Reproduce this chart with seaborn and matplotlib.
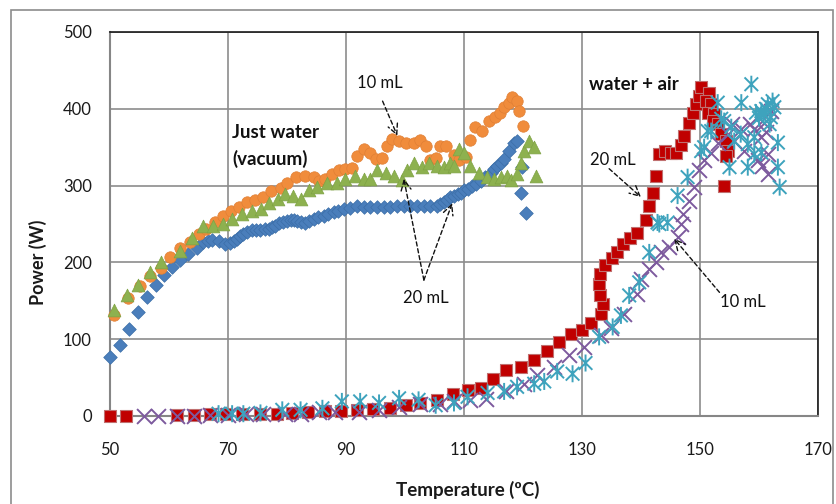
import numpy as np
import pandas as pd
import matplotlib
matplotlib.use("Agg")
import matplotlib.pyplot as plt
import matplotlib.patches as mpatches
from matplotlib.path import Path
import seaborn as sns

# ---------------- data ----------------
vac20a_T = [50, 51.7, 53.2, 54.7, 56.2, 57.8, 59.2, 60.5, 61.9, 63.3, 64.7, 65.8, 66.6, 67.3, 68.4,
            69.5, 70.3, 71.0, 71.5, 72.1, 72.6, 73.3, 74.1, 74.8, 75.5, 76.2, 76.9, 77.5, 78.0, 78.7,
            79.4, 80.0, 80.6, 81.2, 81.7, 82.4, 83.1, 83.8, 84.5, 85.3, 86.2, 87.0, 87.9, 88.7, 89.6,
            90.7, 91.9, 93.0, 94.1, 95.2, 96.4, 97.5, 98.7, 99.8, 100.9, 102.0, 103.2, 104.3, 105.4,
            106.0, 106.6, 107.2, 107.7, 108.3, 108.9, 109.5, 110.0, 110.7, 111.4, 112.1, 112.8, 113.6,
            114.5, 115.0, 115.6, 116.2, 116.8, 117.6, 118.5, 119.0, 119.9, 119.6, 120.5]
vac20a_P = [77, 93, 113, 135, 155, 171, 184, 194, 203, 211, 219, 226, 228, 229, 228,
            224, 225, 228, 231, 234, 237, 240, 242, 242, 242, 243, 244, 246, 248, 251,
            253, 254, 255, 255, 254, 253, 251, 254, 257, 259, 261, 263, 265, 267, 270,
            271, 273, 272, 272, 272, 272, 272, 273, 273, 273, 273, 273, 273, 274,
            276, 278, 281, 285, 287, 289, 291, 294, 296, 299, 302, 306, 311,
            317, 321, 326, 330, 335, 345, 356, 358, 324, 291, 264]

vac10_T = [50.7, 53.1, 55.0, 56.8, 58.6, 60.2, 61.9, 63.5, 65.0, 66.3, 67.8, 69.1, 70.5, 71.8, 73.2,
           74.6, 75.9, 77.3, 78.9, 80.0, 81.6, 83.1, 84.5, 85.4, 86.5, 87.6, 88.8, 89.9, 91.0, 91.9,
           93.0, 94.1, 95.0, 96.1, 97.0, 97.8, 99.0, 100.1, 101.5, 102.6, 103.5, 104.3, 105.2, 105.9,
           106.9, 108.3, 109.2, 110.3, 111.0, 111.9, 113.1, 114.2, 115.2, 116.1, 116.8, 117.6, 118.2,
           118.9, 119.3, 120.0]
vac10_P = [131, 154, 169, 182, 193, 207, 219, 226, 237, 244, 252, 261, 267, 272, 278,
           281, 285, 293, 297, 303, 311, 313, 311, 306, 309, 315, 320, 322, 323, 338,
           348, 342, 335, 336, 352, 361, 358, 355, 356, 359, 351, 333, 336, 352,
           351, 340, 333, 337, 359, 376, 371, 384, 389, 394, 402, 408, 416,
           410, 397, 378]

vac20b_T = [50.7, 52.8, 54.8, 56.8, 58.6, 61.9, 63.9, 65.7, 67.4, 69.1, 70.7, 72.4, 74.1, 75.6,
            76.9, 78.4, 79.7, 81.0, 82.3, 83.7, 85.1, 86.8, 88.5, 89.9, 91.6, 93.0, 94.1, 95.3, 96.7,
            98.1, 99.5, 100.4, 101.5, 102.9, 104.0, 105.5, 106.6, 107.6, 108.3, 109.1, 110.0, 111.1,
            112.5, 113.9, 115.1, 116.2, 117.3, 117.9, 119.0, 119.6, 120.2, 121.0, 121.9, 122.2]
vac20b_P = [138, 157, 171, 187, 200, 215, 232, 247, 248, 250, 257, 263, 267, 270,
            277, 283, 289, 287, 283, 294, 298, 304, 304, 309, 313, 309, 309, 320, 317,
            313, 307, 320, 330, 324, 330, 326, 324, 330, 326, 348, 343, 326,
            317, 311, 309, 311, 313, 307, 315, 330, 345, 358, 350, 313]

air20_T = [50, 52.7, 61.4, 64.3, 67.0, 69.7, 72.4, 75.4, 78.3, 80.8, 83.5, 86.4, 89.1, 91.8, 94.5,
           97.5, 100.1, 102.6, 105.4, 108.2, 110.7, 112.8, 114.9, 117.2, 119.6, 121.9, 124.0, 126.1,
           128.1, 130.0, 131.6, 133.2, 133.5, 133.1, 132.9, 133.1, 133.9, 135.0, 136.0, 136.9, 138.2,
           139.4, 140.8, 141.4, 142.0, 142.6, 143.1, 144.1, 145.1, 145.9, 146.8, 147.3, 148.2, 148.8,
           149.3, 149.9, 150.2, 151.6, 151.0, 151.9, 151.3, 152.4, 152.2, 153.0, 153.6, 154.4, 154.7,
           154.4, 154.0]
air20_P = [0, 0, 1, 1, 2, 2, 2, 3, 3, 4, 5, 6, 7, 8, 9,
           11, 14, 17, 21, 29, 34, 37, 48, 60, 64, 73, 85, 96,
           107, 112, 121, 133, 146, 157, 172, 185, 196, 206, 214, 224, 232,
           238, 255, 274, 290, 312, 341, 345, 342, 342, 353, 365, 382, 395,
           406, 417, 428, 421, 410, 406, 395, 393, 384, 380, 367, 358, 345,
           339, 300]

air10a_T = [55.7, 58.2, 61.4, 64.3, 67.0, 70.0, 73.0, 76.0, 79.7, 82.3, 85.4, 88.2, 92.2, 95.6, 99.0,
            102.6, 106.0, 108.3, 111.1, 113.7, 117.1, 120.2, 122.4, 125.3, 127.8, 130.4, 133.2, 134.9,
            137.2, 139.4, 140.0, 141.4, 142.5, 143.4, 144.8, 146.2, 146.8, 147.1, 148.2, 149.0, 149.9,
            150.7, 151.9, 153.0, 154.7, 155.5, 156.9, 158.4, 159.2, 160.4, 160.9, 161.5, 161.5, 159.8,
            157.5, 155.8, 162.0, 160.5, 161.2]
air10a_P = [0, 0, 0, 0, 1, 1, 2, 2, 3, 3, 5, 5, 5, 8, 12,
            16, 16, 19, 21, 22, 32, 42, 53, 64, 79, 90, 105, 114,
            133, 159, 179, 192, 200, 213, 220, 233, 250, 263, 280, 298, 320,
            333, 343, 356, 367, 380, 374, 380, 374, 363, 382, 341, 315, 333,
            345, 358, 397, 325, 370]

air10b_T = [68.4, 70.7, 72.6, 75.5, 79.2, 82.3, 86.0, 89.3, 92.4, 95.6, 99.0, 102.3, 105.2, 108.3,
            110.6, 114.0, 116.8, 119.0, 121.9, 123.6, 125.8, 128.4, 130.6, 132.9, 135.2, 136.6, 138.0,
            139.7, 141.4, 142.8, 144.5, 146.2, 147.9, 150.2, 150.7, 151.3, 151.9, 153.0, 153.6, 154.1,
            155.0, 155.3, 155.8, 156.9, 157.0, 158.1, 158.1, 158.7, 159.2, 159.2, 160.4, 160.4, 161.5,
            162.0, 162.6, 163.2, 163.2, 163.5, 143.1, 160.0, 160.8, 161.2, 159.5, 162.3, 161.8]
air10b_P = [3, 3, 3, 4, 8, 8, 10, 19, 19, 17, 23, 21, 14, 17,
            25, 30, 32, 38, 42, 45, 58, 55, 69, 103, 116, 131, 157,
            174, 213, 252, 252, 287, 311, 345, 350, 371, 371, 408, 387, 384,
            324, 376, 358, 367, 408, 354, 324, 432, 341, 363, 343, 397, 406,
            389, 402, 356, 324, 298, 250, 388, 392, 400, 395, 410, 380]

# ---------------- style ----------------
sns.set_theme(style="white")
plt.rcParams["font.family"] = ["Lato", "DejaVu Sans"]

fig = plt.figure(figsize=(8.36, 5.04), dpi=100)
ax = fig.add_axes([110 / 836, (504 - 416) / 504, (818 - 110) / 836, (416 - 32) / 504])

# Excel-like star marker (x with vertical bar)
star = Path([(-1, -1), (1, 1), (-1, 1), (1, -1), (0, -1.25), (0, 1.25)],
            [Path.MOVETO, Path.LINETO, Path.MOVETO, Path.LINETO, Path.MOVETO, Path.LINETO])

series = [
    (vac20a_T, vac20a_P, "#4a7ebb", "D", 48, "#3b6ea8", 0.5),
    (vac10_T, vac10_P, "#f08c3c", "o", 68, "#e07f35", 0.5),
    (vac20b_T, vac20b_P, "#8db14f", "^", 85, "#7fa244", 0.5),
    (air20_T, air20_P, "#c00000", "s", 72, "#c07070", 0.8),
    (air10a_T, air10a_P, "#7d5a9e", "x", 115, "#7d5a9e", 1.4),
    (air10b_T, air10b_P, "#3ea3bd", star, 150, "#3ea3bd", 1.4),
]
for T, P, col, mk, size, ec, lw in series:
    df = pd.DataFrame({"T": T, "P": P})
    if isinstance(mk, str) and mk == "x":
        sns.scatterplot(data=df, x="T", y="P", ax=ax, marker=mk, s=size, color=col,
                        linewidth=lw, zorder=3, clip_on=False)
    elif isinstance(mk, Path):
        sns.scatterplot(data=df, x="T", y="P", ax=ax, marker=mk, s=size,
                        facecolor="none", edgecolor=col, linewidth=lw, zorder=3,
                        clip_on=False)
    else:
        sns.scatterplot(data=df, x="T", y="P", ax=ax, marker=mk, s=size, color=col,
                        edgecolor=ec, linewidth=lw, zorder=3, clip_on=False)

ax.set_xlim(50, 170)
ax.set_ylim(0, 500)
ax.set_xticks([50, 70, 90, 110, 130, 150, 170])
ax.set_yticks([0, 100, 200, 300, 400, 500])
ax.grid(True, color="#8c8c8c", linewidth=1.2)
ax.set_axisbelow(True)
for side in ("left", "bottom"):
    ax.spines[side].set_color("#868686")
    ax.spines[side].set_linewidth(1.5)
for side in ("top", "right"):
    ax.spines[side].set_color("#1a1a1a")
    ax.spines[side].set_linewidth(1.2)
ax.tick_params(axis="both", which="both", direction="out", length=5, width=1.2,
               color="#868686", labelsize=12, labelcolor="#1a1a1a")
ax.tick_params(axis="y", pad=8)
ax.tick_params(axis="x", pad=14)
ax.set_xlabel("")
ax.set_ylabel("")

fig.text(468 / 836, 1 - 490 / 504, "Temperature (ºC)", ha="center", va="center",
         fontsize=13.5, fontweight="bold", color="#1a1a1a")
fig.text(38 / 836, 1 - 262 / 504, "Power (W)", ha="center", va="center", rotation=90,
         fontsize=13, fontweight="bold", color="#1a1a1a")

# annotations
ax.text(70.7, 369, "Just water", fontsize=13.5, fontweight="bold", ha="left", va="center",
        color="#111111")
ax.text(70.7, 335, "(vacuum)", fontsize=13.5, fontweight="bold", ha="left", va="center",
        color="#111111")
ax.text(131.2, 432, "water + air", fontsize=13.5, fontweight="bold", ha="left", va="center",
        color="#111111")

arrow_kw = dict(arrowstyle="->", linestyle=(0, (3, 2)), color="#111111", lw=1.0,
                shrinkA=0, shrinkB=0, mutation_scale=18)
ax.text(95.8, 434, "10 mL", fontsize=12, ha="center", va="center", color="#111111")
ax.annotate("", xy=(98.7, 365), xytext=(96.2, 410), arrowprops=arrow_kw)

ax.text(103.5, 153, "20 mL", fontsize=12, ha="center", va="center", color="#111111")
ax.annotate("", xy=(99.8, 309), xytext=(103.2, 177), arrowprops=arrow_kw)
ax.annotate("", xy=(108.0, 277), xytext=(103.2, 177), arrowprops=arrow_kw)

ax.text(135.2, 333, "20 mL", fontsize=12, ha="center", va="center", color="#111111")
ax.annotate("", xy=(140.0, 285), xytext=(134.6, 322), arrowprops=arrow_kw)

ax.text(157.3, 148, "10 mL", fontsize=12, ha="center", va="center", color="#111111")
ax.annotate("", xy=(145.6, 231), xytext=(153.3, 161), arrowprops=arrow_kw)

# outer chart border
fig.patches.append(mpatches.Rectangle((11 / 836, -0.05), (833 - 11) / 836, 1.05 - 10 / 504,
                                      transform=fig.transFigure, fill=False,
                                      edgecolor="#8c8c8c", linewidth=1.2))

fig.savefig("out.png", dpi=100)
